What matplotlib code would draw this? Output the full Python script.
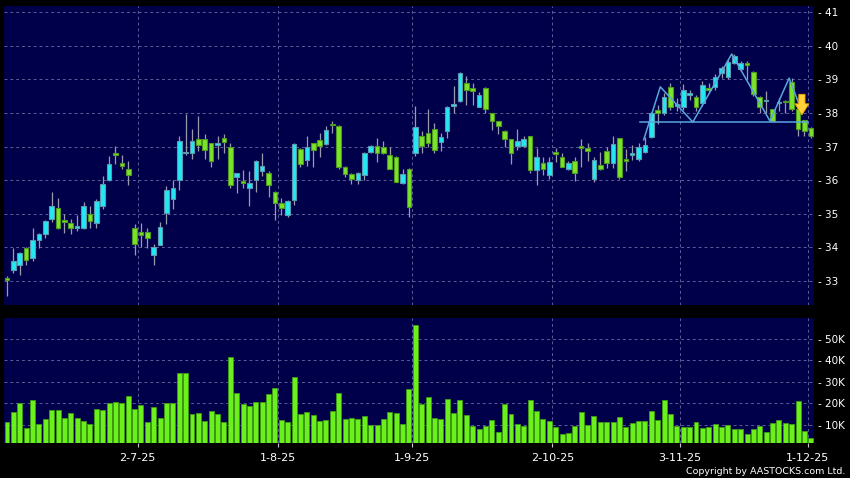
import numpy as np
import matplotlib.pyplot as plt

# daily candles, 2 Jun 2025 .. 1 Dec 2025 (127 trading days)
opens = [33.08, 33.32, 33.47, 33.98, 33.68, 34.20, 34.40, 34.84, 35.18, 34.80,
         34.73, 34.58, 34.58, 34.98, 34.73, 35.24, 35.99, 36.80, 36.50, 36.34,
         34.56, 34.44, 34.44, 33.78, 34.06, 35.01, 35.45, 35.99, 36.80, 36.80,
         37.22, 37.22, 37.10, 37.04, 37.25, 36.99, 36.10, 35.98, 35.75, 35.99,
         36.28, 36.20, 35.64, 35.31, 34.95, 35.41, 36.92, 36.60, 37.10, 37.18,
         37.07, 37.63, 37.62, 36.40, 36.18, 35.99, 36.14, 36.84, 37.02, 36.98,
         36.76, 36.70, 35.90, 36.34, 36.80, 37.32, 37.40, 37.51, 37.14, 37.45,
         38.21, 38.35, 38.90, 38.76, 38.19, 38.76, 37.99, 37.75, 37.47, 37.21,
         37.02, 37.02, 37.30, 36.30, 36.50, 36.14, 36.84, 36.68, 36.32, 36.56,
         37.02, 36.96, 36.02, 36.46, 36.86, 36.50, 37.24, 36.62, 36.76, 36.64,
         36.84, 37.28, 38.09, 38.01, 38.79, 38.22, 38.19, 38.53, 38.49, 38.29,
         38.76, 38.78, 39.18, 39.08, 39.50, 39.32, 39.50, 39.22, 38.49, 38.35,
         38.11, 38.31, 38.33, 38.92, 38.13, 37.79, 37.55]
highs = [33.15, 33.98, 33.85, 34.00, 34.58, 34.42, 34.80, 35.64, 35.48, 34.98,
         34.84, 34.95, 35.34, 35.24, 35.44, 36.11, 36.72, 37.02, 36.76, 36.56,
         34.70, 34.72, 34.58, 34.10, 34.75, 35.83, 35.99, 37.32, 37.97, 37.52,
         37.91, 37.38, 37.12, 37.32, 37.38, 37.12, 36.22, 36.30, 36.28, 36.60,
         36.82, 36.28, 35.66, 35.46, 35.40, 37.10, 36.95, 37.32, 37.12, 37.40,
         37.60, 37.77, 37.64, 36.42, 36.20, 36.24, 36.84, 37.05, 37.24, 37.16,
         37.00, 36.72, 36.34, 36.36, 38.20, 37.47, 38.11, 37.71, 37.40, 38.20,
         38.80, 39.22, 39.10, 38.88, 38.63, 38.78, 38.00, 37.76, 37.48, 37.22,
         37.51, 37.30, 37.32, 36.96, 36.70, 36.68, 36.96, 36.82, 36.58, 36.70,
         37.22, 37.10, 36.70, 36.84, 37.00, 37.30, 37.26, 36.94, 37.06, 37.10,
         37.28, 38.03, 38.25, 38.60, 38.90, 38.45, 38.85, 38.70, 38.55, 38.95,
         38.90, 39.15, 39.40, 39.60, 39.75, 39.55, 39.55, 39.25, 38.50, 38.65,
         38.12, 38.45, 38.38, 39.05, 38.20, 37.80, 37.58]
lows = [32.55, 33.22, 33.16, 33.46, 33.58, 33.98, 34.28, 34.76, 34.55, 34.42,
        34.38, 34.48, 34.54, 34.56, 34.56, 35.15, 35.97, 36.48, 36.34, 35.84,
        33.76, 34.00, 33.98, 33.48, 34.05, 34.70, 35.15, 35.69, 36.75, 36.64,
        36.88, 36.64, 36.40, 36.64, 36.80, 35.75, 35.61, 35.75, 35.23, 35.65,
        36.13, 35.49, 34.81, 34.96, 34.89, 35.27, 36.38, 36.42, 36.40, 36.68,
        37.05, 37.40, 36.34, 36.10, 35.89, 35.89, 36.01, 36.82, 36.54, 36.78,
        36.32, 35.95, 35.88, 34.91, 36.72, 36.80, 36.98, 36.80, 36.86, 37.24,
        37.99, 38.33, 38.23, 38.23, 38.17, 37.99, 37.49, 37.37, 36.98, 36.48,
        36.90, 37.00, 36.20, 35.84, 36.14, 36.02, 36.54, 36.38, 36.30, 35.98,
        36.38, 36.58, 35.94, 36.30, 36.36, 36.36, 36.04, 36.28, 36.60, 36.56,
        36.82, 37.25, 37.67, 37.95, 38.10, 38.05, 38.10, 38.40, 38.05, 38.20,
        38.60, 38.70, 39.05, 39.00, 39.45, 39.25, 39.00, 38.50, 38.00, 38.00,
        37.75, 38.05, 38.00, 38.05, 37.31, 37.30, 37.25]
closes = [33.01, 33.58, 33.83, 33.62, 34.20, 34.40, 34.79, 35.24, 34.58, 34.74,
          34.58, 34.64, 35.24, 34.78, 35.38, 35.89, 36.49, 36.74, 36.43, 36.14,
          34.08, 34.36, 34.26, 34.00, 34.60, 35.69, 35.75, 37.16, 36.81, 37.16,
          37.04, 36.90, 36.58, 37.10, 37.15, 35.85, 36.20, 35.90, 35.90, 36.56,
          36.42, 35.85, 35.31, 35.16, 35.39, 37.07, 36.47, 37.00, 36.90, 37.02,
          37.48, 37.63, 36.40, 36.18, 36.03, 36.22, 36.82, 37.02, 36.82, 36.80,
          36.34, 35.95, 36.18, 35.21, 37.57, 37.02, 37.12, 36.90, 37.28, 38.19,
          38.27, 39.20, 38.70, 38.66, 38.53, 38.11, 37.75, 37.61, 37.21, 36.80,
          37.16, 37.22, 36.30, 36.70, 36.32, 36.54, 36.78, 36.40, 36.52, 36.22,
          36.96, 36.86, 36.60, 36.32, 36.50, 37.08, 36.10, 36.56, 36.82, 37.00,
          37.06, 37.99, 37.99, 38.47, 38.17, 38.28, 38.69, 38.60, 38.19, 38.84,
          38.70, 39.08, 39.34, 39.51, 39.70, 39.50, 39.44, 38.57, 38.17, 38.37,
          37.77, 38.33, 38.32, 38.11, 37.51, 37.45, 37.32]
volumes_k = [11.3, 15.9, 20.2, 8.8, 21.5, 10.3, 12.6, 17.0, 17.0, 13.3,
             15.4, 13.3, 11.7, 10.6, 17.3, 16.8, 20.2, 20.7, 20.1, 23.3,
             17.6, 19.3, 11.3, 18.4, 13.3, 20.2, 20.4, 34.0, 34.4, 15.0,
             15.7, 12.0, 16.7, 15.0, 11.4, 41.8, 24.9, 19.8, 19.0, 20.7,
             20.7, 24.6, 27.4, 12.3, 11.6, 32.2, 15.1, 16.2, 14.7, 12.0,
             12.2, 16.5, 24.9, 12.8, 13.3, 12.8, 14.3, 10.2, 10.2, 12.8,
             16.2, 15.6, 10.3, 26.6, 56.5, 19.7, 22.9, 13.1, 12.6, 22.1,
             15.4, 21.8, 14.5, 9.5, 8.0, 9.5, 12.5, 6.9, 19.9, 15.0,
             10.5, 9.5, 21.5, 16.4, 13.0, 11.7, 8.9, 5.8, 6.3, 9.7,
             16.1, 10.2, 14.3, 11.6, 11.3, 11.4, 13.6, 8.9, 10.8, 12.0,
             11.7, 16.5, 12.2, 21.5, 15.0, 9.5, 8.9, 8.9, 11.3, 8.8,
             9.2, 10.3, 9.2, 9.9, 8.2, 8.2, 6.0, 8.0, 9.4, 6.8,
             10.9, 12.2, 10.8, 10.6, 21.0, 7.2, 4.0]

date_labels = ['2-7-25', '1-8-25', '1-9-25', '2-10-25', '3-11-25', '1-12-25']
date_index = [21, 43, 64, 86, 106, 126]
price_ticks = [33, 34, 35, 36, 37, 38, 39, 40, 41]
vol_ticks = [10, 20, 30, 40, 50]

# head & shoulders drawn over the chart
hs_index = [99.8, 102.4, 107.5, 113.6, 119.6, 122.6, 124.6]
hs_price = [37.2, 38.78, 37.73, 39.76, 37.76, 39.04, 38.04]
neck_index = [99.3, 125.5]
neck_price = [37.74, 37.74]

BG = '#00004a'
UP = '#22e8f4'
DOWN = '#7ce22a'
GRID = '#5c5c98'

fig = plt.figure(figsize=(8.5, 4.78), dpi=100, facecolor='black')
ax = fig.add_axes([0.0047, 0.3609, 0.9529, 0.6265], facecolor=BG)
axv = fig.add_axes([0.0047, 0.0726, 0.9529, 0.2611], facecolor=BG, sharex=ax)

x = np.arange(len(opens))
o = np.array(opens)
c = np.array(closes)
up = c > o

ax.vlines(x, lows, highs, color='#9a9aac', lw=0.9, zorder=2)
ax.bar(x, np.maximum(np.abs(c - o), 0.03), bottom=np.minimum(o, c), width=0.72,
       color=np.where(up, UP, DOWN), edgecolor=np.where(up, '#5c98b0', '#4e9a1e'),
       lw=0.8, zorder=3)

ax.plot(hs_index, hs_price, color='#5aa6de', lw=1.1, zorder=4)
ax.plot(neck_index, neck_price, color='#5aa6de', lw=1.1, zorder=4)
ax.annotate('', xy=(124.6, 37.86), xytext=(124.6, 38.64),
            arrowprops=dict(arrowstyle='simple,head_length=0.8,head_width=1.0,tail_width=0.45',
                            fc='#ffd23a', ec='#e8a400', lw=0.6), zorder=5)

axv.bar(x, volumes_k, width=0.78, color='#6cf01c', edgecolor='#3e9c12', lw=0.6, zorder=3)

ax.set_xlim(-0.47, 126.49)
ax.set_ylim(32.26, 41.19)
axv.set_ylim(1.5, 59.5)

ticks = np.array(date_index) - 0.5
for a in (ax, axv):
    a.set_xticks(ticks)
    a.grid(True, color=GRID, ls=(0, (3, 3)), lw=0.7, zorder=0)
    a.set_axisbelow(True)
    a.yaxis.tick_right()
    a.tick_params(axis='y', length=0, pad=3, labelcolor='white', labelsize=7.5)
    for s in a.spines.values():
        s.set_visible(False)

ax.set_yticks(price_ticks)
ax.set_yticklabels(['- %d' % p for p in price_ticks])
ax.tick_params(axis='x', length=0, labelbottom=False)

axv.set_yticks(vol_ticks)
axv.set_yticklabels(['- %dK' % v for v in vol_ticks])
axv.set_xticklabels(date_labels)
axv.tick_params(axis='x', colors='#c8c8c8', labelcolor='white', length=3, pad=4, labelsize=8)

fig.text(0.995, 0.0146, 'Copyright by AASTOCKS.com Ltd.', color='white',
         fontsize=6.8, ha='right', va='center')

fig.savefig('out.png', dpi=100, facecolor='black')
